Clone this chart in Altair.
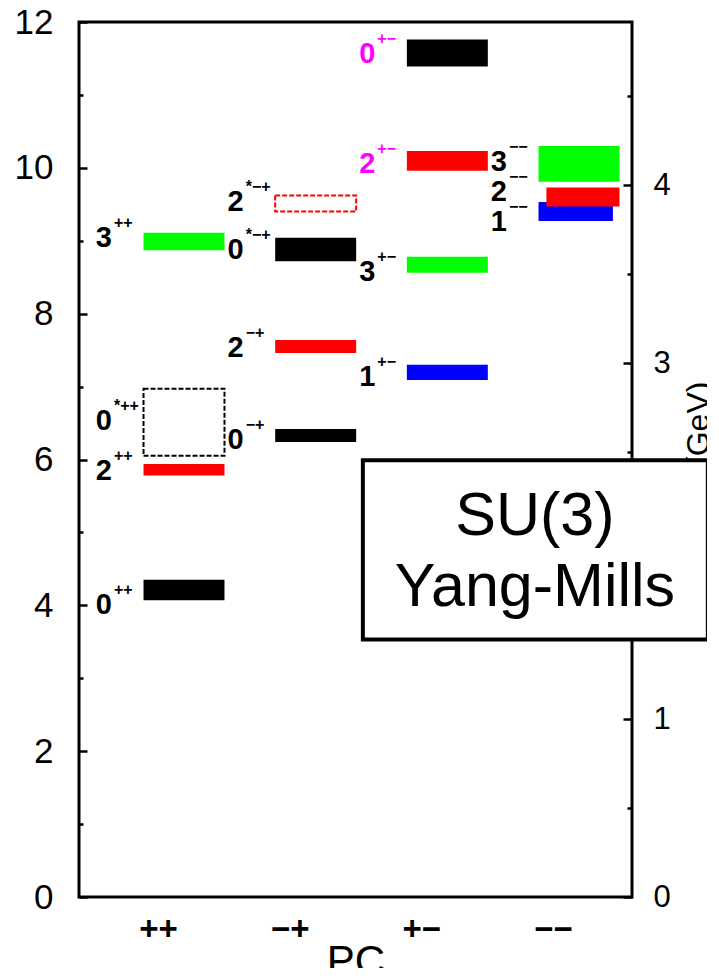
import json
import altair as alt
import pandas as pd

# ---------------- data ----------------
pc_labels = ["++", "−+", "+−", "−−"]

state_pc = [1, 1, 1, 1, 2, 2, 2, 2, 3, 3, 3, 3, 4, 4, 4]
state_J = ["0", "2", "0", "3", "0", "2", "0", "2", "1", "3", "2", "0", "1", "2", "3"]
state_sup = ["++", "++", "*++", "++", "−+", "−+", "*−+", "*−+",
             "+−", "+−", "+−", "+−", "−−", "−−", "−−"]
state_kind = ["solid", "solid", "dashed", "solid", "solid", "solid", "solid", "dashed",
              "solid", "solid", "solid", "solid", "solid", "solid", "solid"]
mass_lo = [4.07, 5.78, 6.05, 8.87, 6.24, 7.46, 8.72, 9.40,
           7.09, 8.56, 9.96, 11.39, 9.27, 9.47, 9.81]
mass_hi = [4.35, 5.94, 6.97, 9.11, 6.42, 7.64, 9.04, 9.62,
           7.30, 8.78, 10.23, 11.76, 9.53, 9.73, 10.30]
bar_left = [0.89, 0.89, 0.89, 0.89, 1.89, 1.89, 1.89, 1.89,
            2.89, 2.89, 2.89, 2.89, 3.89, 3.95, 3.89]
bar_right = [1.505, 1.505, 1.505, 1.505, 2.505, 2.505, 2.505, 2.505,
             3.505, 3.505, 3.505, 3.505, 4.455, 4.505, 4.505]
label_y = [4.01, 5.84, 6.53, 9.04, 6.27, 7.53, 8.88, 9.53,
           7.13, 8.57, 10.05, 11.56, 9.26, 9.67, 10.08]
label_highlight = [False, False, False, False, False, False, False, False,
                   False, False, True, True, False, False, False]

r0_gev = 2.441          # r0*m units per GeV (right axis)
gev_ticks = [0, 1, 2, 3, 4]

box_x = [2.556, 5.176]
box_y = [3.53, 5.99]
box_text = ["SU(3)", "Yang-Mills"]
box_text_y = [5.21, 4.24]
box_text_x = 3.863

# ---------------- tables ----------------
df = pd.DataFrame({
    "pc": state_pc, "J": state_J, "sup": state_sup, "kind": state_kind,
    "lo": mass_lo, "hi": mass_hi, "x0": bar_left, "x1": bar_right,
    "ly": label_y, "hl": label_highlight,
})
df_box = pd.DataFrame({"x0": [box_x[0]], "x1": [box_x[1]], "y0": [box_y[0]], "y1": [box_y[1]]})
df_boxtxt = pd.DataFrame({"t": box_text, "y": box_text_y, "x": [box_text_x] * 2})
df_gev = pd.DataFrame({"g": gev_ticks})

FONT = "Liberation Sans, Arial, sans-serif"

xscale = alt.Scale(domain=[0.4, 4.6])
yscale = alt.Scale(domain=[0, 12])
color_scale = alt.Scale(domain=["0", "1", "2", "3"],
                        range=["#000000", "#0000ff", "#ff0000", "#00ff00"])

x_axis = alt.Axis(
    values=[1, 2, 3, 4],
    labelExpr=json.dumps(pc_labels) + "[datum.value - 1]",
    ticks=False, tickSize=0, domain=False, grid=False,
    labelFont=FONT, labelFontSize=33, labelFontWeight="bold", labelColor="black",
    labelPadding=16, labelBaseline="top",
    title="PC", titleFont=FONT, titleFontSize=42, titleFontWeight="normal",
    titleColor="black", titleBaseline="top", titleY=44,
)
y_axis = alt.Axis(
    values=list(range(0, 13)),
    format="d",
    labelExpr="datum.value % 2 == 0 ? datum.label : ''",
    tickSize={"expr": "datum.value % 2 == 0 ? -8 : -4"},
    tickWidth=2.5, tickColor="black", domain=False, grid=False,
    labelFont=FONT, labelFontSize=35, labelColor="black", labelPadding=34,
    title=None,
)

base = alt.Chart(df)

bars = base.transform_filter("datum.kind == 'solid'").mark_rect().encode(
    x=alt.X("x0:Q", scale=xscale, axis=x_axis),
    x2="x1:Q",
    y=alt.Y("lo:Q", scale=yscale, axis=y_axis),
    y2="hi:Q",
    color=alt.Color("J:N", scale=color_scale, legend=None),
)

dashed = base.transform_filter("datum.kind == 'dashed'").mark_rect(
    filled=False, strokeWidth=2, strokeDash=[5, 2]
).encode(
    x=alt.X("x0:Q", scale=xscale),
    x2="x1:Q",
    y=alt.Y("lo:Q", scale=yscale),
    y2="hi:Q",
    stroke=alt.Stroke("J:N", scale=color_scale, legend=None),
)

lab_color = alt.condition("datum.hl", alt.value("#ff00ff"), alt.value("black"))

digits = base.mark_text(
    align="right", baseline="middle", dx=-46, font=FONT, fontSize=29, fontWeight="bold"
).encode(
    x=alt.X("pc:Q", scale=xscale),
    y=alt.Y("ly:Q", scale=yscale),
    text="J:N",
    color=lab_color,
)

sups = base.mark_text(
    align="left", baseline="middle", dx=-44, dy=-15, font=FONT, fontSize=16, fontWeight="bold"
).encode(
    x=alt.X("pc:Q", scale=xscale),
    y=alt.Y("ly:Q", scale=yscale),
    text="sup:N",
    color=lab_color,
)

box = alt.Chart(df_box).mark_rect(fill="white", stroke="black", strokeWidth=4).encode(
    x=alt.X("x0:Q", scale=xscale), x2="x1:Q",
    y=alt.Y("y0:Q", scale=yscale), y2="y1:Q",
)

box_lbl = alt.Chart(df_boxtxt).mark_text(
    align="center", baseline="middle", font=FONT, fontSize=61, color="black"
).encode(
    x=alt.X("x:Q", scale=xscale),
    y=alt.Y("y:Q", scale=yscale),
    text="t:N",
)

inner = alt.layer(bars, dashed, digits, sups, box, box_lbl)

gev_layer = alt.Chart(df_gev).mark_point(opacity=0).encode(
    y=alt.Y(
        "g:Q",
        scale=alt.Scale(domain=[0, 12 / r0_gev]),
        axis=alt.Axis(
            orient="right",
            values=[i * 0.5 for i in range(0, 10)],
            labelExpr="datum.value % 1 == 0 ? format(datum.value, 'd') : ''",
            tickSize={"expr": "datum.value % 1 == 0 ? -9 : -5"},
            tickWidth=2.5, tickColor="black", domain=False, grid=False,
            labelFont=FONT, labelFontSize=31, labelColor="black", labelPadding=30,
            title="mG (GeV)", titleFont=FONT, titleFontSize=32, titleFontWeight="normal",
            titleColor="black", titleAngle=270, titleAlign="center",
            titleBaseline="alphabetic", titleX=76, titleY=432,
        ),
    )
)

chart = alt.layer(inner, gev_layer).resolve_scale(y="independent").properties(
    width=553, height=875,
    autosize=alt.AutoSizeParams(type="none"),
    padding={"left": 71, "top": 14, "right": 75, "bottom": 71},
).configure_view(stroke="black", strokeWidth=3)

chart.save("out.html", embed_options={"renderer": "svg", "actions": False})
